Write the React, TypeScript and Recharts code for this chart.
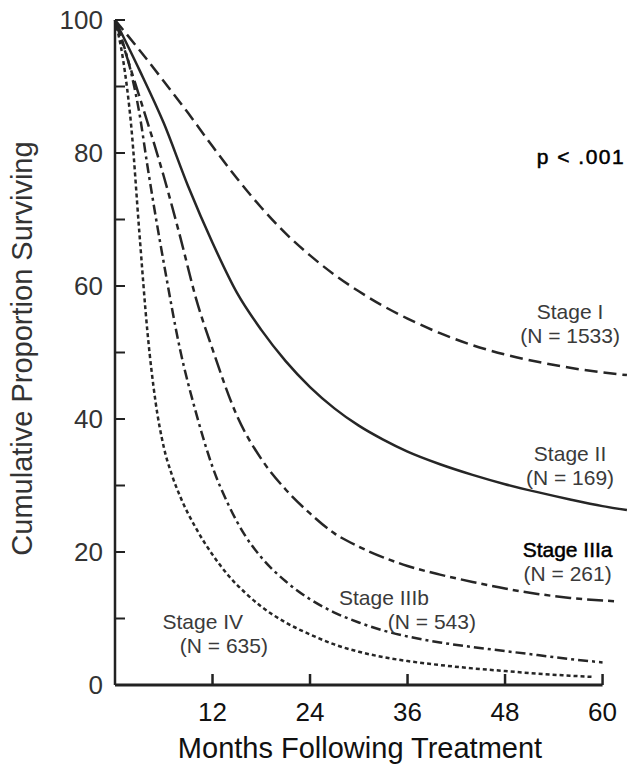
import { LineChart, Line, XAxis, YAxis, ReferenceDot, ReferenceLine } from "recharts";

// months after treatment, and percent surviving
const monthsEarlyStages = [0, 3, 6, 9, 12, 15, 18, 21, 24, 27, 30, 33, 36, 40, 44, 48, 52, 56, 60, 63];
const stageI = [100, 95.5, 90.8, 86, 81, 76.2, 71.8, 67.9, 64.6, 61.7, 59.2, 57, 55.1, 52.9, 51.1, 49.7, 48.6, 47.7, 47, 46.6];
const stageII = [100, 92.5, 84.5, 75, 66.5, 59, 53.4, 48.7, 44.8, 41.6, 39, 36.9, 35.1, 33.2, 31.6, 30.2, 29, 27.9, 26.9, 26.3];

const monthsIIIa = [0, 3, 6, 8, 10, 12, 15, 18, 21, 24, 27, 30, 33, 36, 40, 44, 48, 52, 56, 60, 61.5];
const stageIIIa = [100, 88.5, 76.5, 67.5, 58, 50.5, 40.5, 34, 29.4, 25.8, 22.8, 20.8, 19.2, 17.9, 16.6, 15.5, 14.5, 13.7, 13.1, 12.7, 12.6];

const monthsIIIb = [0, 2, 3, 4, 5, 6, 8, 10, 12, 14, 16, 18, 21, 24, 27, 30, 33, 36, 40, 44, 48, 52, 56, 60];
const stageIIIb = [100, 92, 86, 78, 70.5, 63.5, 50.5, 40.8, 32.8, 27, 22.5, 19.2, 15.6, 12.9, 10.9, 9.4, 8.2, 7.3, 6.4, 5.7, 5.1, 4.5, 3.9, 3.4];

const monthsIV = [0, 1, 2, 3, 4, 5, 6, 7, 8, 10, 12, 14, 16, 18, 21, 24, 27, 30, 33, 36, 40, 44, 48, 52, 56, 59];
const stageIV = [100, 94, 84, 68, 53, 42.5, 35.8, 31.6, 28.4, 23.5, 19.6, 16.4, 13.9, 11.8, 9.4, 7.6, 6.1, 5, 4.2, 3.6, 3, 2.5, 2.1, 1.7, 1.4, 1.2];

const xTicks = [12, 24, 36, 48, 60];
const yTicks = [0, 10, 20, 30, 40, 50, 60, 70, 80, 90, 100];

const stageLabels = ["Stage I", "Stage II", "Stage IIIa", "Stage IIIb", "Stage IV"];
const stageCounts = ["(N = 1533)", "(N = 169)", "(N = 261)", "(N = 543)", "(N = 635)"];

const FONT = "'Liberation Sans', Arial, Helvetica, sans-serif";
const INK = "#222";

const toPoints = (months: number[], vals: number[]) => months.map((m, i) => ({ m, v: vals[i] }));

const series = [
  { name: stageLabels[0], data: toPoints(monthsEarlyStages, stageI), dash: "13 6" },
  { name: stageLabels[1], data: toPoints(monthsEarlyStages, stageII), dash: undefined },
  { name: stageLabels[2], data: toPoints(monthsIIIa, stageIIIa), dash: "16 5 6 5" },
  { name: stageLabels[3], data: toPoints(monthsIIIb, stageIIIb), dash: "10 4 3 4" },
  { name: stageLabels[4], data: toPoints(monthsIV, stageIV), dash: "4 3" },
];

// where each annotation line sits, in chart units (month, percent)
const notes = [
  { m: 51.9, v: 79.4, text: "p < .001", anchor: "start", dark: true, spacing: 1.5 },
  { m: 56, v: 56.1, text: stageLabels[0] },
  { m: 56, v: 52.6, text: stageCounts[0] },
  { m: 56, v: 34.8, text: stageLabels[1] },
  { m: 56, v: 31.2, text: stageCounts[1] },
  { m: 55.7, v: 20.4, text: stageLabels[2], dark: true },
  { m: 55.7, v: 16.8, text: stageCounts[2] },
  { m: 33.1, v: 13.2, text: stageLabels[3] },
  { m: 39.0, v: 9.6, text: stageCounts[3] },
  { m: 10.8, v: 9.6, text: stageLabels[4] },
  { m: 13.4, v: 6.0, text: stageCounts[4] },
];

const Y_GAP = 12;
const X_GAP = 10;

function YTick(props: any) {
  const { x, y, payload } = props;
  const axisX = x + Y_GAP;
  const v = payload.value;
  return (
    <g>
      <line x1={axisX} x2={axisX + 10} y1={y} y2={y} stroke={INK} strokeWidth={2} />
      {v % 20 === 0 && (
        <text x={x} y={y} dy={9} textAnchor="end" fontFamily={FONT} fontSize={26} fill="#333">
          {v}
        </text>
      )}
    </g>
  );
}

function XTick(props: any) {
  const { x, y, payload } = props;
  const axisY = y - X_GAP;
  return (
    <g>
      <line x1={x} x2={x} y1={axisY} y2={axisY - 11} stroke={INK} strokeWidth={2.5} />
      <text x={x} y={axisY + 36} textAnchor="middle" fontFamily={FONT} fontSize={26} fill="#111">
        {payload.value}
      </text>
    </g>
  );
}

const noteLabel = (text: string, anchor: string, dark?: boolean, spacing?: number) => (p: any) => {
  const vb = p.viewBox;
  if (!vb) return null;
  return (
    <text
      x={vb.x + vb.width / 2}
      y={vb.y + vb.height / 2}
      dominantBaseline="central"
      textAnchor={anchor}
      fontFamily={FONT}
      fontSize={21}
      letterSpacing={spacing ?? 0}
      fill={dark ? "#000" : "#3a3a3a"}
      stroke={dark ? "#000" : "none"}
      strokeWidth={dark ? 0.5 : 0}
    >
      {text}
    </text>
  );
};

export default function App() {
  return (
    <div style={{ position: "absolute", left: 0, top: 0, width: 632, height: 770, background: "#fff" }}>
      <LineChart width={632} height={770} margin={{ top: 20, right: 1, bottom: 0, left: 0 }}>
        <XAxis
          type="number"
          dataKey="m"
          domain={[0, 63.5]}
          ticks={xTicks}
          axisLine={false}
          tickLine={false}
          tickSize={0}
          tickMargin={X_GAP}
          tick={<XTick />}
          height={85}
          interval={0}
          label={{
            content: (p: any) => {
              const vb = p.viewBox;
              return (
                <text x={360} y={vb.y + 73} textAnchor="middle" fontFamily={FONT} fontSize={29} fill="#111">
                  Months Following Treatment
                </text>
              );
            },
          }}
        />
        <YAxis
          type="number"
          domain={[0, 100]}
          ticks={yTicks}
          width={115}
          interval={0}
          axisLine={{ stroke: INK, strokeWidth: 2.5 }}
          tickLine={false}
          tickSize={0}
          tickMargin={Y_GAP}
          tick={<YTick />}
          label={{
            content: (p: any) => {
              const vb = p.viewBox;
              const cy = vb.y + vb.height / 2 - 4;
              return (
                <text
                  x={22}
                  y={cy}
                  transform={`rotate(-90, 22, ${cy})`}
                  textAnchor="middle"
                  dominantBaseline="central"
                  fontFamily={FONT}
                  fontSize={29}
                  fill="#333"
                >
                  Cumulative Proportion Surviving
                </text>
              );
            },
          }}
        />
        <ReferenceLine
          segment={[
            { x: 0, y: 0 },
            { x: 60, y: 0 },
          ]}
          stroke={INK}
          strokeWidth={3}
        />
        {series.map((s) => (
          <Line
            key={s.name}
            data={s.data}
            dataKey="v"
            type="monotone"
            stroke="#262626"
            strokeWidth={2.5}
            strokeDasharray={s.dash}
            dot={false}
            activeDot={false}
            isAnimationActive={false}
          />
        ))}
        {notes.map((n, i) => (
          <ReferenceDot
            key={i}
            x={n.m}
            y={n.v}
            r={1}
            fill="none"
            stroke="none"
            label={{ content: noteLabel(n.text, n.anchor ?? "middle", n.dark, n.spacing) }}
          />
        ))}
      </LineChart>
    </div>
  );
}
